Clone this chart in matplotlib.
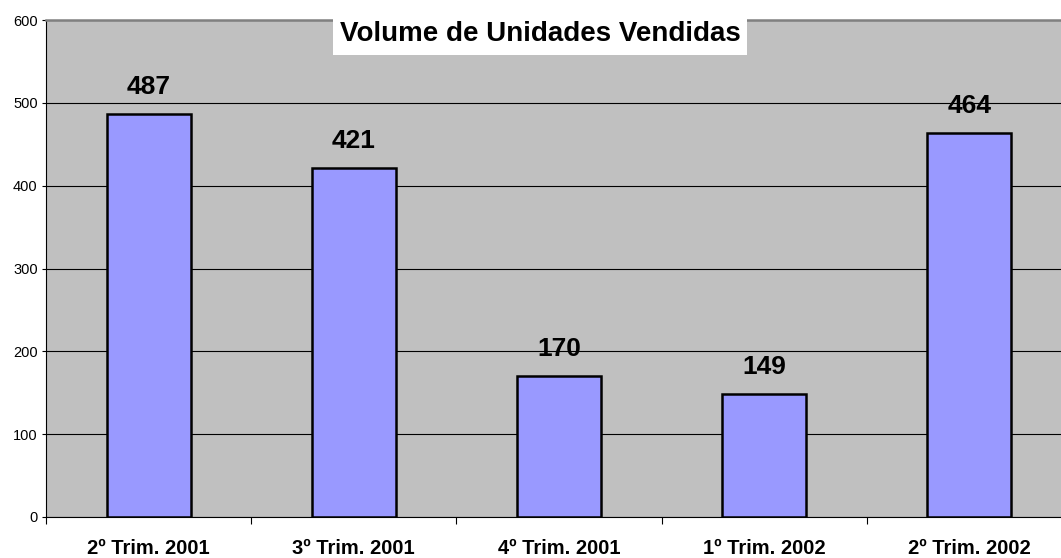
import matplotlib
matplotlib.use("Agg")
import matplotlib.pyplot as plt
from matplotlib.patches import Rectangle
import numpy as np

categories = ["2º Trim. 2001", "3º Trim. 2001", "4º Trim. 2001", "1º Trim. 2002", "2º Trim. 2002"]
values = [487, 421, 170, 149, 464]
title = "Volume de Unidades Vendidas"

plt.rcParams['font.family'] = ['Liberation Sans', 'DejaVu Sans']

W, H = 1061, 558
fig = plt.figure(figsize=(W / 100, H / 100), dpi=100)
# plot area runs a little past the right edge of the picture, as in the original
ax = fig.add_axes([46 / W, 41 / H, 1026 / W, 497 / H])
ax.set_facecolor('#C0C0C0')

x = np.arange(len(categories))
bars = ax.bar(x, values, width=0.41, color='#9999FF', edgecolor='black', linewidth=1.8, zorder=3)

for b, v in zip(bars, values):
    ax.text(b.get_x() + b.get_width() / 2, v + 24, str(v), ha='center', va='baseline',
            fontsize=19, fontweight='bold', zorder=4)

ax.set_xlim(-0.5, len(categories) - 0.5)
ax.set_ylim(0, 600)
ax.set_yticks(range(0, 601, 100))
ax.yaxis.grid(True, color='black', linewidth=0.8, zorder=1)
ax.tick_params(axis='y', labelsize=10.5, length=3, width=0.8, pad=3)

# category ticks sit on the boundaries, labels at the centres
ax.set_xticks(np.arange(len(categories) + 1) - 0.5)
ax.set_xticklabels([])
ax.set_xticks(x, minor=True)
ax.set_xticklabels(categories, minor=True, fontsize=14.5, fontweight='bold')
ax.tick_params(axis='x', which='major', length=5, width=0.8)
ax.tick_params(axis='x', which='minor', length=0, pad=16)

ax.spines['left'].set_color('black')
ax.spines['bottom'].set_color('black')
ax.spines['top'].set_color('#808080')
ax.spines['top'].set_linewidth(1.8)
ax.spines['right'].set_visible(False)

# white box behind the title
box = Rectangle((333 / W, 1 - 55 / H), 414 / W, 37 / H, transform=fig.transFigure,
                facecolor='white', edgecolor='none', zorder=2)
fig.add_artist(box)
fig.text(540 / W, 1 - 41 / H, title, ha='center', va='baseline', fontsize=20,
         fontweight='bold', zorder=3)

fig.savefig("out.png", dpi=100)
